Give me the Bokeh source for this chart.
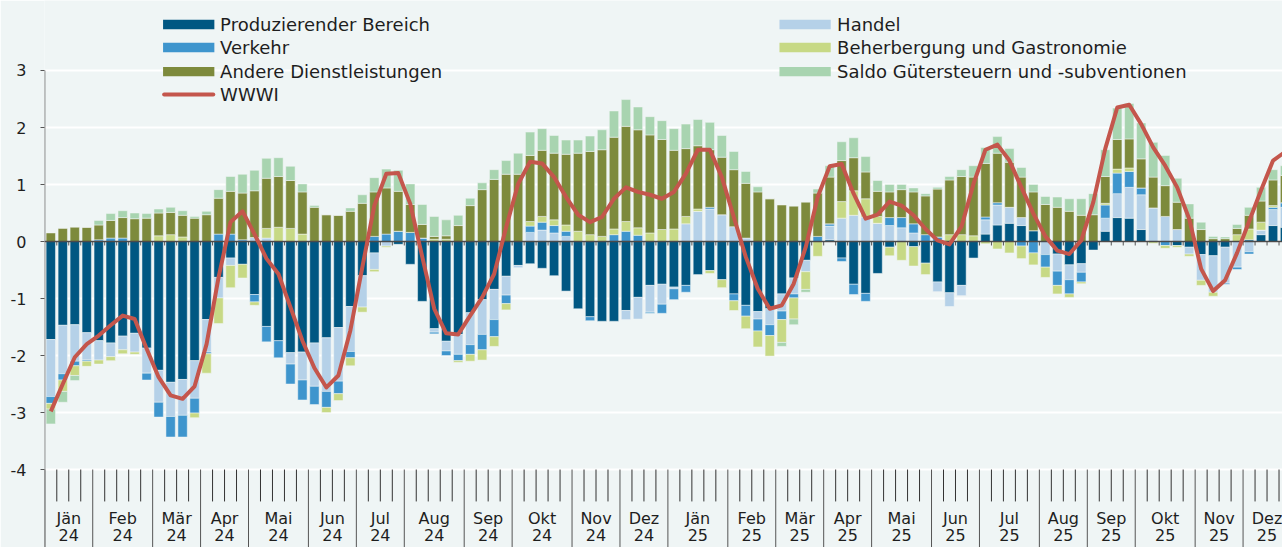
import numpy as np
from bokeh.plotting import figure
from bokeh.models import FixedTicker, Range1d
from bokeh.core.properties import value
from bokeh.embed import file_html
from bokeh.resources import INLINE

# ---------------- data (weekly, Jän 24 ... Dez 25) ----------------
months = ["Jän", "Feb", "Mär", "Apr", "Mai", "Jun", "Jul", "Aug", "Sep", "Okt", "Nov", "Dez"] * 2
years = ["24"] * 12 + ["25"] * 12
weeks_per_month = [4, 5, 4, 4, 5, 4, 4, 5, 4, 5, 4, 4,
                   5, 4, 4, 4, 5, 4, 5, 4, 4, 5, 4, 4]
y_ticks = [-4, -3, -2, -1, 0, 1, 2, 3]

prod = [-1.72, -1.47, -1.46, -1.60, -1.74, -1.78, -1.66, -1.61, -1.87, -2.26, -2.47, -2.42, -2.09,
        -1.37, -0.63, -0.29, -0.40, -0.93, -1.49, -1.74, -1.95, -1.94, -1.78, -1.69, -1.51, -1.14,
        -0.60, -0.20, 0.00, -0.05, -0.40, -1.05, -1.53, -1.75, -1.63, -1.25, -1.02, -0.84, -0.61,
        -0.42, -0.39, -0.47, -0.60, -0.87, -1.18, -1.32, -1.40, -1.40, -1.21, -0.98, -0.77, -0.75,
        -0.80, -0.77, -0.58, -0.51, -0.67, -0.92, -1.12, -1.23, -1.18, -0.92, -0.64, -0.33, 0.00,
        0.03, -0.29, -0.75, -0.91, -0.56, -0.10, 0.00, -0.09, -0.38, -0.71, -0.90, -0.77, -0.29,
        0.13, 0.29, 0.32, 0.28, 0.19, 0.00, -0.22, -0.41, -0.39, -0.15, 0.18, 0.42, 0.41, 0.21,
        0.00, 0.00, -0.07, -0.10, -0.23, -0.25, -0.10, 0.00, 0.03, 0.12, 0.28, 0.25]
handel = [-1.00, -0.85, -0.64, -0.48, -0.34, -0.24, -0.24, -0.33, -0.44, -0.56, -0.60, -0.63, -0.66,
          -0.57, -0.36, -0.13, 0.00, 0.07, 0.06, 0.00, -0.20, -0.49, -0.76, -0.94, -0.94, -0.79,
          -0.55, -0.29, -0.08, 0.00, 0.00, 0.00, -0.06, -0.17, -0.35, -0.56, -0.61, -0.53, -0.33,
          -0.04, 0.16, 0.20, 0.15, 0.09, 0.00, 0.00, 0.00, 0.00, -0.16, -0.38, -0.47, -0.35,
          -0.03, 0.31, 0.53, 0.57, 0.47, 0.26, 0.06, -0.13, -0.28, -0.30, -0.28, -0.20, 0.00,
          0.24, 0.41, 0.46, 0.43, 0.32, 0.28, 0.24, 0.15, 0.00, -0.17, -0.24, -0.18, 0.00,
          0.25, 0.35, 0.28, 0.14, 0.00, -0.23, -0.30, -0.26, -0.15, 0.00, 0.23, 0.42, 0.54, 0.61,
          0.59, 0.44, 0.21, -0.12, -0.45, -0.64, -0.63, -0.45, -0.18, 0.08, 0.28, 0.35]
verkehr = [-0.12, -0.11, -0.08, -0.02, 0.03, 0.06, 0.06, 0.00, -0.12, -0.26, -0.36, -0.38, -0.26,
           -0.03, 0.13, 0.13, 0.03, -0.13, -0.27, -0.30, -0.35, -0.35, -0.32, -0.28, -0.22, -0.11,
           0.00, 0.09, 0.13, 0.18, 0.16, 0.06, -0.03, -0.08, -0.11, -0.17, -0.27, -0.30, -0.15,
           0.00, 0.11, 0.14, 0.13, 0.09, 0.00, -0.07, 0.00, 0.12, 0.18, 0.11, -0.02, -0.16,
           -0.19, -0.12, 0.00, 0.03, 0.00, -0.12, -0.19, -0.21, -0.19, -0.15, -0.07, 0.00, 0.09,
           0.04, -0.06, -0.18, -0.14, 0.00, 0.14, 0.18, 0.16, 0.12, 0.08, 0.00, 0.00, 0.00,
           0.05, 0.04, 0.00, -0.08, -0.20, -0.22, -0.25, -0.25, -0.17, 0.00, 0.23, 0.36, 0.28, 0.12,
           0.00, -0.07, 0.00, 0.00, 0.00, 0.00, -0.02, -0.04, -0.04, 0.00, 0.04, 0.08]
beherb = [-0.10, -0.20, -0.17, -0.09, -0.07, -0.07, -0.07, -0.04, 0.00, 0.10, 0.12, 0.08, -0.08,
          -0.34, -0.45, -0.39, -0.24, -0.06, 0.17, 0.25, 0.23, 0.13, 0.00, -0.09, -0.12, -0.14,
          -0.09, -0.04, -0.02, 0.00, 0.00, 0.00, 0.04, 0.04, -0.03, -0.12, -0.18, -0.17, -0.11,
          0.00, 0.08, 0.10, 0.10, 0.11, 0.18, 0.12, 0.09, 0.10, 0.17, 0.13, 0.15, 0.21,
          0.22, 0.13, 0.04, -0.05, -0.14, -0.17, -0.22, -0.28, -0.36, -0.40, -0.37, -0.31, -0.26,
          0.00, 0.29, 0.43, 0.32, 0.12, -0.15, -0.33, -0.34, -0.20, 0.00, 0.12, 0.12, 0.10,
          -0.04, -0.13, -0.20, -0.22, -0.21, -0.18, -0.15, -0.06, -0.03, 0.00, 0.03, 0.07, 0.06, 0.00,
          -0.03, -0.05, -0.03, -0.04, -0.09, -0.07, 0.00, 0.12, 0.19, 0.14, 0.03, 0.00]
andere = [0.15, 0.23, 0.25, 0.25, 0.26, 0.31, 0.36, 0.40, 0.41, 0.40, 0.39, 0.38, 0.41,
          0.47, 0.63, 0.75, 0.82, 0.82, 0.88, 0.89, 0.84, 0.74, 0.60, 0.47, 0.46, 0.53,
          0.67, 0.78, 0.81, 0.70, 0.49, 0.24, 0.05, 0.06, 0.28, 0.63, 0.91, 1.09, 1.18,
          1.18, 1.16, 1.16, 1.17, 1.24, 1.37, 1.46, 1.52, 1.61, 1.67, 1.72, 1.72, 1.58,
          1.38, 1.19, 1.11, 1.01, 1.01, 1.00, 0.96, 0.87, 0.75, 0.64, 0.62, 0.69, 0.76,
          0.82, 0.72, 0.58, 0.47, 0.44, 0.45, 0.49, 0.56, 0.68, 0.84, 0.96, 1.02, 1.03,
          0.94, 0.87, 0.79, 0.71, 0.68, 0.65, 0.60, 0.53, 0.46, 0.47, 0.47, 0.52, 0.51, 0.51,
          0.54, 0.54, 0.48, 0.41, 0.21, 0.05, 0.05, 0.11, 0.24, 0.37, 0.45, 0.48]
saldo = [-0.26, -0.19, -0.09, 0.00, 0.08, 0.12, 0.12, 0.10, 0.08, 0.07, 0.09, 0.08, 0.03,
         0.06, 0.15, 0.26, 0.33, 0.36, 0.35, 0.33, 0.25, 0.14, 0.03, 0.00, 0.00, 0.06,
         0.15, 0.25, 0.33, 0.37, 0.36, 0.35, 0.35, 0.28, 0.18, 0.13, 0.12, 0.17, 0.24,
         0.37, 0.41, 0.38, 0.31, 0.25, 0.23, 0.27, 0.35, 0.46, 0.47, 0.40, 0.32, 0.33,
         0.38, 0.43, 0.46, 0.48, 0.38, 0.32, 0.21, 0.09, 0.00, -0.07, -0.10, -0.05, 0.07,
         0.20, 0.33, 0.35, 0.27, 0.19, 0.13, 0.09, 0.07, 0.04, 0.03, 0.06, 0.12, 0.20,
         0.28, 0.29, 0.24, 0.17, 0.13, 0.14, 0.18, 0.22, 0.29, 0.37, 0.47, 0.55, 0.62, 0.63,
         0.61, 0.53, 0.42, 0.25, 0.13, 0.04, 0.03, 0.07, 0.14, 0.24, 0.18, 0.17]
wwwi = [-2.98, -2.50, -2.03, -1.80, -1.65, -1.47, -1.30, -1.36, -1.88, -2.38, -2.70, -2.76, -2.54,
        -1.80, -0.63, 0.34, 0.53, 0.13, -0.30, -0.57, -1.15, -1.74, -2.22, -2.56, -2.35, -1.56,
        -0.45, 0.63, 1.19, 1.20, 0.66, -0.27, -1.18, -1.61, -1.63, -1.30, -0.98, -0.57, 0.25,
        1.01, 1.40, 1.37, 1.13, 0.78, 0.47, 0.34, 0.43, 0.75, 0.95, 0.87, 0.82, 0.75,
        0.87, 1.19, 1.61, 1.61, 1.13, 0.43, -0.27, -0.83, -1.18, -1.12, -0.74, -0.10, 0.78,
        1.32, 1.36, 0.84, 0.40, 0.47, 0.70, 0.63, 0.46, 0.22, 0.02, -0.05, 0.26, 1.01,
        1.61, 1.70, 1.42, 0.95, 0.49, 0.09, -0.16, -0.22, 0.02, 0.69, 1.63, 2.35, 2.40, 2.06,
        1.65, 1.33, 0.95, 0.40, -0.48, -0.87, -0.68, -0.20, 0.35, 0.90, 1.42, 1.57]

series_names = ["Produzierender Bereich", "Handel", "Verkehr",
                "Beherbergung und Gastronomie", "Andere Dienstleistungen",
                "Saldo Gütersteuern und -subventionen"]
series_values = [prod, handel, verkehr, beherb, andere, saldo]
line_name = "WWWI"

# ---------------- style ----------------
BG = "#EFF5F5"
FONT = "DejaVu Sans"
TXT = "#1e1e1e"
colors = ["#005782", "#B5D1E8", "#3E95CD", "#C7D985", "#7D8A3C", "#A8D4B0"]
LINE_COLOR = "#C4564C"

Y_MIN, Y_MAX = -5.368, 4.228
X_MIN, X_MAX = -0.025, 103.29

p = figure(width=1282, height=547, output_backend="svg", toolbar_location=None,
           x_range=Range1d(X_MIN, X_MAX), y_range=Range1d(Y_MIN, Y_MAX),
           min_border_left=44, min_border_right=0, min_border_top=0, min_border_bottom=0)
p.background_fill_color = BG
p.border_fill_color = BG
p.outline_line_color = None
p.xaxis.visible = False
p.xgrid.visible = False

yax = p.yaxis[0]
yax.ticker = FixedTicker(ticks=y_ticks)
yax.major_label_overrides = {t: str(t) for t in y_ticks}
yax.axis_line_color = None
yax.major_tick_line_color = "#555555"
yax.major_tick_out = 4
yax.major_tick_in = 0
yax.minor_tick_line_color = None
yax.major_label_standoff = 14
yax.major_label_text_font = FONT
yax.major_label_text_font_size = "16px"
yax.major_label_text_color = TXT
p.ygrid.grid_line_color = "white"
p.ygrid.grid_line_width = 2

# ---------------- stacked bars ----------------
n = len(prod)
xs = np.arange(n) + 0.5
pos_base = np.zeros(n)
neg_base = np.zeros(n)
for name, vals, col in zip(series_names, series_values, colors):
    v = np.array(vals, dtype=float)
    bottom = np.where(v >= 0, pos_base, neg_base)
    top = bottom + v
    pos_base = np.where(v >= 0, pos_base + v, pos_base)
    neg_base = np.where(v < 0, neg_base + v, neg_base)
    p.vbar(x=xs, bottom=bottom, top=top, width=0.78, fill_color=col,
           line_color="#F2F7F7", line_width=0.5)

# zero line with small week ticks
bounds = np.arange(1, n)
p.segment(x0=bounds, y0=np.zeros(len(bounds)), x1=bounds, y1=np.full(len(bounds), -0.07),
          line_color="#555555", line_width=1)
p.segment(x0=[0], y0=[0], x1=[X_MAX], y1=[0], line_color="#4a4a4a", line_width=1.5)

# WWWI line
p.line(x=xs, y=wwwi, line_color=LINE_COLOR, line_width=4, line_join="round")

# ---------------- custom category axis ----------------
month_edges = np.concatenate([[0], np.cumsum(weeks_per_month)])
month_set = set(month_edges.tolist())
week_ticks = np.array([b for b in range(1, n) if b not in month_set])
p.segment(x0=week_ticks, y0=np.full(len(week_ticks), -4.0), x1=week_ticks,
          y1=np.full(len(week_ticks), -4.56), line_color="#333333", line_width=1)
p.segment(x0=month_edges, y0=np.full(len(month_edges), -4.0), x1=month_edges,
          y1=np.full(len(month_edges), Y_MIN - 0.2), line_color="#555555", line_width=1)
# y axis line
p.segment(x0=[0], y0=[3], x1=[0], y1=[Y_MIN - 0.2], line_color="#555555", line_width=1)

centers = (month_edges[:-1] + month_edges[1:]) / 2.0
p.text(x=centers, y=np.full(len(centers), -4.86), text=months, text_font=value(FONT),
       text_font_size="16px", text_align="center", text_baseline="middle", text_color=TXT)
p.text(x=centers, y=np.full(len(centers), -5.15), text=years, text_font=value(FONT),
       text_font_size="16px", text_align="center", text_baseline="middle", text_color=TXT)

# ---------------- legend (two columns, row-major) ----------------
col_x = [12.01, 63.45]
text_x = [14.63, 66.12]
row_y = [3.807, 3.404, 2.98, 2.579]
leg_items = list(zip(series_names, colors))
for k, (name, col) in enumerate(leg_items):
    c = k % 2
    r = k // 2
    p.rect(x=[col_x[c]], y=[row_y[r]], width=4.28, height=0.165, fill_color=col, line_color=None)
    p.text(x=[text_x[c]], y=[row_y[r]], text=[name], text_font=value(FONT), text_font_size="18px",
           text_baseline="middle", text_color=TXT)
p.segment(x0=[col_x[0] - 2.05], y0=[row_y[3]], x1=[col_x[0] + 2.05], y1=[row_y[3]],
          line_color=LINE_COLOR, line_width=4, line_cap="round")
p.text(x=[text_x[0]], y=[row_y[3]], text=[line_name], text_font=value(FONT), text_font_size="18px",
       text_baseline="middle", text_color=TXT)

open("out.html", "w").write(file_html(p, INLINE))
